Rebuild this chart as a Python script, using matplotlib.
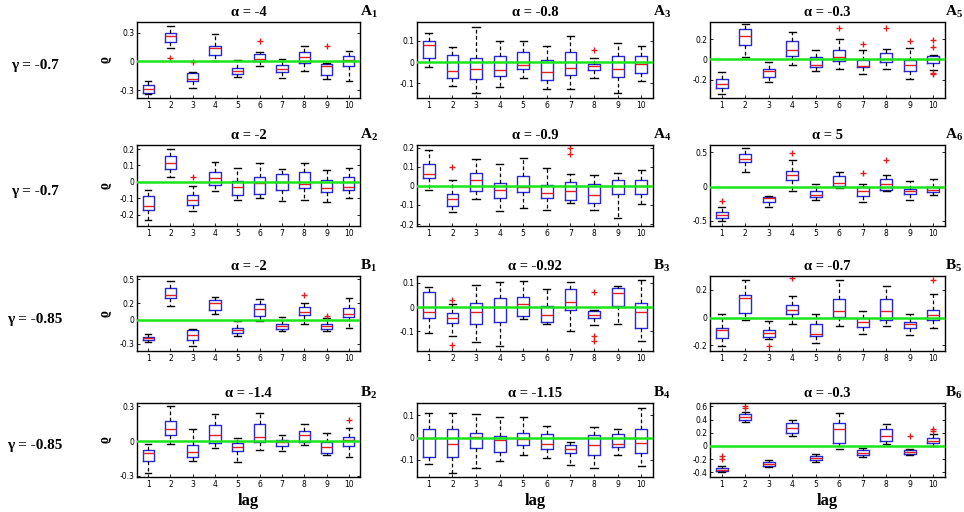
import numpy as np
import matplotlib
matplotlib.use('Agg')
import matplotlib.pyplot as plt

plt.rcParams['mathtext.fontset'] = 'custom'
plt.rcParams['mathtext.bf'] = 'Liberation Serif:bold'
plt.rcParams['mathtext.rm'] = 'Liberation Serif:bold'

lags = list(range(1, 11))

# ---- panel data: rows are whisker low, q1, median, q3, whisker high ----
A1_stats = [[-0.336, 0.144, -0.274, 0.007, -0.165, -0.05, -0.175, -0.096, -0.178, -0.199],
            [-0.326, 0.206, -0.206, 0.069, -0.127, 0.0, -0.11, -0.017, -0.137, -0.051],
            [-0.285, 0.267, -0.18, 0.137, -0.096, 0.027, -0.079, 0.051, -0.05, 0.01],
            [-0.24, 0.30, -0.12, 0.161, -0.069, 0.079, -0.041, 0.096, -0.027, 0.058],
            [-0.206, 0.37, -0.11, 0.29, 0.017, 0.10, 0.027, 0.165, -0.017, 0.11]]
A1_fliers = {2: [0.034], 3: [-0.007], 6: [0.21], 9: [0.165]}

A3_stats = [[-0.024, -0.115, -0.146, -0.12, -0.074, -0.126, -0.126, -0.076, -0.145, -0.091],
            [0.019, -0.074, -0.079, -0.066, -0.031, -0.083, -0.063, -0.039, -0.071, -0.05],
            [0.079, -0.044, -0.031, -0.039, -0.013, -0.047, -0.027, -0.019, -0.031, -0.008],
            [0.102, 0.036, 0.02, 0.031, 0.05, 0.008, 0.05, -0.008, 0.028, 0.031],
            [0.137, 0.071, 0.168, 0.099, 0.102, 0.074, 0.126, 0.02, 0.09, 0.074]]
A3_fliers = {8: [0.055]}

A5_stats = [[-0.341, 0.02, -0.226, -0.056, -0.111, -0.095, -0.144, -0.095, -0.193, -0.105],
            [-0.282, 0.144, -0.177, 0.03, -0.079, -0.013, -0.072, -0.02, -0.111, -0.036],
            [-0.243, 0.233, -0.111, 0.095, -0.052, 0.02, -0.062, 0.003, -0.052, 0.003],
            [-0.193, 0.305, -0.089, 0.184, 0.02, 0.095, -0.007, 0.069, -0.007, 0.03],
            [-0.128, 0.348, -0.023, 0.275, 0.095, 0.207, 0.092, 0.108, 0.118, 0.046]]
A5_fliers = {6: [0.315], 7: [0.151], 8: [0.315], 9: [0.184], 10: [0.193, 0.125, -0.134, -0.144]}

A2_stats = [[-0.231, 0.032, -0.18, -0.059, -0.11, -0.099, -0.12, -0.114, -0.126, -0.099],
            [-0.17, 0.079, -0.14, -0.022, -0.079, -0.073, -0.049, -0.039, -0.063, -0.049],
            [-0.146, 0.118, -0.114, 0.026, -0.034, -0.005, 0.0, -0.012, -0.039, -0.034],
            [-0.089, 0.16, -0.079, 0.059, 0.006, 0.032, 0.047, 0.063, 0.012, 0.032],
            [-0.049, 0.2, -0.028, 0.124, 0.083, 0.118, 0.077, 0.118, 0.073, 0.083]]
A2_fliers = {3: [0.032]}

A4_stats = [[-0.021, -0.136, -0.067, -0.133, -0.114, -0.124, -0.088, -0.128, -0.166, -0.097],
            [0.041, -0.107, -0.029, -0.064, -0.033, -0.064, -0.072, -0.088, -0.045, -0.045],
            [0.062, -0.071, 0.031, -0.021, -0.007, -0.038, -0.028, -0.05, 0.002, 0.002],
            [0.114, -0.045, 0.066, 0.014, 0.053, 0.005, 0.022, 0.01, 0.031, 0.033],
            [0.186, 0.031, 0.143, 0.117, 0.145, 0.091, 0.062, 0.057, 0.067, 0.083]]
A4_fliers = {2: [0.1], 7: [0.2, 0.169]}

A6_stats = [[-0.5, 0.207, -0.308, -0.071, -0.197, -0.02, -0.222, -0.071, -0.197, -0.121],
            [-0.46, 0.359, -0.222, 0.096, -0.157, 0.005, -0.136, -0.045, -0.111, -0.086],
            [-0.414, 0.409, -0.172, 0.167, -0.121, 0.056, -0.071, 0.04, -0.061, -0.045],
            [-0.374, 0.475, -0.157, 0.232, -0.061, 0.157, -0.01, 0.106, -0.03, -0.01],
            [-0.298, 0.56, -0.136, 0.384, 0.04, 0.207, 0.04, 0.167, 0.081, 0.106]]
A6_fliers = {1: [-0.207], 4: [0.495], 7: [0.192], 8: [0.384]}

B1_stats = [[-0.276, 0.163, -0.325, 0.069, -0.203, -0.024, -0.146, -0.053, -0.142, -0.102],
            [-0.248, 0.264, -0.256, 0.122, -0.163, 0.049, -0.114, 0.061, -0.114, 0.028],
            [-0.232, 0.305, -0.195, 0.211, -0.134, 0.13, -0.085, 0.089, -0.085, 0.069],
            [-0.215, 0.394, -0.134, 0.24, -0.102, 0.191, -0.053, 0.15, -0.053, 0.138],
            [-0.183, 0.476, -0.122, 0.285, -0.02, 0.26, 0.028, 0.203, 0.016, 0.264]]
B1_fliers = {8: [0.305], 9: [0.049]}

B3_stats = [[-0.107, -0.119, -0.147, -0.161, -0.05, -0.069, -0.101, -0.076, -0.071, -0.143],
            [-0.047, -0.066, -0.069, -0.061, -0.037, -0.064, -0.011, -0.047, 0.003, -0.086],
            [-0.021, -0.047, -0.021, -0.002, 0.014, -0.033, 0.02, -0.033, 0.057, -0.019],
            [0.064, -0.026, 0.017, 0.039, 0.043, 0.006, 0.074, -0.016, 0.079, 0.017],
            [0.084, 0.013, 0.093, 0.106, 0.11, 0.077, 0.106, -0.012, 0.089, 0.113]]
B3_fliers = {2: [0.029, -0.159], 8: [0.064, -0.121, -0.14]}

B5_stats = [[-0.202, -0.02, -0.156, -0.042, -0.18, -0.057, -0.116, -0.057, -0.128, -0.074],
            [-0.143, 0.037, -0.136, 0.025, -0.131, 0.005, -0.067, -0.017, -0.074, -0.017],
            [-0.091, 0.143, -0.111, 0.057, -0.116, 0.049, -0.032, 0.049, -0.042, 0.02],
            [-0.074, 0.16, -0.086, 0.091, -0.042, 0.136, -0.005, 0.131, -0.03, 0.057],
            [0.03, 0.272, -0.025, 0.153, 0.025, 0.272, 0.049, 0.23, 0.025, 0.168]]
B5_fliers = {3: [-0.205], 4: [0.284], 10: [0.272]}

B2_stats = [[-0.277, -0.023, -0.173, -0.061, -0.182, -0.075, -0.086, -0.032, -0.124, -0.133],
            [-0.173, 0.049, -0.133, -0.014, -0.089, -0.009, -0.046, -0.009, -0.104, -0.046],
            [-0.104, 0.101, -0.095, 0.049, -0.052, 0.035, -0.009, 0.049, -0.052, 0.014],
            [-0.075, 0.173, -0.032, 0.141, -0.014, 0.15, 0.014, 0.092, -0.009, 0.035],
            [-0.023, 0.308, 0.107, 0.236, 0.026, 0.245, 0.049, 0.15, 0.069, 0.112]]
B2_fliers = {10: [0.187]}

B4_stats = [[-0.119, -0.157, -0.137, -0.107, -0.076, -0.093, -0.122, -0.137, -0.076, -0.127],
            [-0.085, -0.085, -0.046, -0.063, -0.031, -0.053, -0.07, -0.078, -0.043, -0.07],
            [0.0, -0.027, 0.003, -0.012, -0.005, -0.027, -0.05, -0.032, -0.027, -0.023],
            [0.038, 0.038, 0.021, 0.008, 0.023, 0.015, -0.032, 0.014, 0.015, 0.041],
            [0.11, 0.11, 0.105, 0.095, 0.095, 0.053, -0.02, 0.049, 0.038, 0.133]]
B4_fliers = {}

B6_stats = [[-0.40, 0.37, -0.32, 0.15, -0.25, -0.05, -0.17, 0.03, -0.14, 0.0],
            [-0.38, 0.40, -0.30, 0.20, -0.22, 0.05, -0.14, 0.08, -0.12, 0.04],
            [-0.36, 0.44, -0.27, 0.27, -0.18, 0.25, -0.10, 0.15, -0.09, 0.08],
            [-0.33, 0.48, -0.24, 0.35, -0.15, 0.35, -0.06, 0.25, -0.06, 0.12],
            [-0.30, 0.52, -0.22, 0.40, -0.12, 0.50, -0.03, 0.33, -0.04, 0.18]]
B6_fliers = {1: [-0.2, -0.15], 2: [0.57, 0.6], 9: [0.15], 10: [0.22, 0.26]}

# grid layout: rows top->bottom, cols left->right
panel_names = [['A1', 'A3', 'A5'], ['A2', 'A4', 'A6'], ['B1', 'B3', 'B5'], ['B2', 'B4', 'B6']]
panel_alpha = [['-4', '-0.8', '-0.3'], ['-2', '-0.9', '5'], ['-2', '-0.92', '-0.7'], ['-1.4', '-1.15', '-0.3']]
row_gamma = ['-0.7', '-0.7', '-0.85', '-0.85']
panel_ylim = {'A1': (-0.38, 0.41), 'A3': (-0.17, 0.19), 'A5': (-0.38, 0.37),
              'A2': (-0.27, 0.225), 'A4': (-0.21, 0.214), 'A6': (-0.58, 0.61),
              'B1': (-0.39, 0.54), 'B3': (-0.183, 0.129), 'B5': (-0.24, 0.30),
              'B2': (-0.31, 0.33), 'B4': (-0.177, 0.156), 'B6': (-0.47, 0.65)}
panel_yticks = {'A1': [-0.3, 0, 0.3], 'A3': [-0.1, 0, 0.1], 'A5': [-0.2, 0, 0.2],
                'A2': [-0.2, -0.1, 0, 0.1, 0.2], 'A4': [-0.2, -0.1, 0, 0.1, 0.2], 'A6': [-0.5, 0, 0.5],
                'B1': [-0.3, 0, 0.2, 0.5], 'B3': [-0.1, 0, 0.1], 'B5': [-0.2, 0, 0.2],
                'B2': [-0.3, 0, 0.3], 'B4': [-0.1, 0, 0.1], 'B6': [-0.4, -0.2, 0, 0.2, 0.4, 0.6]}

data = {'A1': (A1_stats, A1_fliers), 'A3': (A3_stats, A3_fliers), 'A5': (A5_stats, A5_fliers),
        'A2': (A2_stats, A2_fliers), 'A4': (A4_stats, A4_fliers), 'A6': (A6_stats, A6_fliers),
        'B1': (B1_stats, B1_fliers), 'B3': (B3_stats, B3_fliers), 'B5': (B5_stats, B5_fliers),
        'B2': (B2_stats, B2_fliers), 'B4': (B4_stats, B4_fliers), 'B6': (B6_stats, B6_fliers)}

W, H = 964, 512
col_lr = [(137, 360), (417, 653), (710, 945)]
row_tb = [(22, 98), (145, 226), (276, 351), (403, 477)]

serif = 'Liberation Serif'
blue = '#2828d8'
red = '#e02020'
green = '#19e619'


def fmt(v):
    if v == 0:
        return '0'
    return ('%g' % v)


def make_stats(stats, fliers):
    out = []
    for i, lag in enumerate(lags):
        out.append({'whislo': stats[0][i], 'q1': stats[1][i], 'med': stats[2][i],
                    'q3': stats[3][i], 'whishi': stats[4][i],
                    'fliers': fliers.get(lag, [])})
    return out


fig = plt.figure(figsize=(W / 100, H / 100), dpi=100)

for r in range(4):
    for c in range(3):
        name = panel_names[r][c]
        l, rr = col_lr[c]
        t, b = row_tb[r]
        ax = fig.add_axes([l / W, 1 - b / H, (rr - l) / W, (b - t) / H])
        stats, fliers = data[name]
        ax.bxp(make_stats(stats, fliers), positions=lags, widths=0.5, capwidths=0.3,
               boxprops=dict(color=blue, linewidth=1.0),
               medianprops=dict(color=red, linewidth=1.0),
               whiskerprops=dict(color='black', linewidth=0.9, linestyle=(0, (3, 2))),
               capprops=dict(color='black', linewidth=1.0),
               flierprops=dict(marker='+', markeredgecolor=red, markersize=5, markeredgewidth=1.0))
        ax.axhline(0, color=green, linewidth=1.8, zorder=5)
        ax.set_xlim(0.5, 10.5)
        ax.set_ylim(*panel_ylim[name])
        ax.set_xticks(lags)
        ax.set_xticklabels([str(x) for x in lags], fontsize=5.5)
        yt = panel_yticks[name]
        ax.set_yticks(yt)
        ax.set_yticklabels([fmt(v) for v in yt], fontsize=5.5)
        ax.tick_params(direction='in', length=2.5, width=0.6, right=True, pad=2)
        for s in ax.spines.values():
            s.set_linewidth(1.0)
        ax.set_title('\u03b1 = ' + panel_alpha[r][c], fontfamily=serif, fontweight='bold',
                     fontsize=10.5, pad=4)
        ax.text(1.0, 1.13, r'$\mathbf{%s_{%s}}$' % (name[0], name[1]), transform=ax.transAxes,
                fontsize=11, ha='left', va='center')
        if c == 0:
            ax.set_ylabel('\u03f1', fontfamily=serif, fontweight='bold', fontsize=10, labelpad=6)
        if r == 3:
            ax.set_xlabel('lag', fontfamily=serif, fontweight='bold', fontsize=12, labelpad=3)
    fig.text(35 / W, 1 - ((row_tb[r][0] + row_tb[r][1]) / 2 + 6) / H, '\u03b3 = ' + row_gamma[r],
             fontfamily=serif, fontweight='bold', fontsize=11, ha='center', va='center')

fig.savefig('out.png', dpi=100)
